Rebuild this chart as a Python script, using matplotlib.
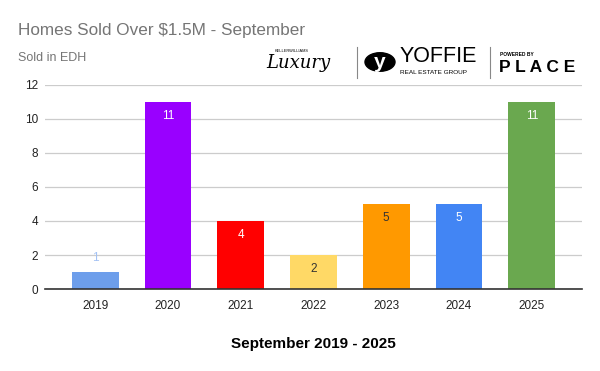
import matplotlib.pyplot as plt
from matplotlib.patches import Circle
from matplotlib.lines import Line2D

years = ["2019", "2020", "2021", "2022", "2023", "2024", "2025"]
sold = [1, 11, 4, 2, 5, 5, 11]
colors = ["#6d9eeb", "#9900ff", "#ff0000", "#ffd966", "#ff9900", "#4285f4", "#6aa84f"]
label_colors = ["#a4c2f4", "white", "white", "#333333", "#333333", "white", "white"]

plt.rcParams['font.family'] = ['Liberation Sans', 'DejaVu Sans']

fig = plt.figure(figsize=(6, 3.71), dpi=100)
ax = fig.add_axes([0.075, 0.221, 0.895, 0.55])

x = range(len(years))
bars = ax.bar(x, sold, width=0.645, color=colors, zorder=2)
for i, (b, v) in enumerate(zip(bars, sold)):
    if v < 2:
        ax.annotate(str(v), (i, v), xytext=(0, 10), textcoords="offset points",
                    ha="center", va="center", fontsize=8.5, color=label_colors[i])
    else:
        ax.annotate(str(v), (i, v), xytext=(0, -10), textcoords="offset points",
                    ha="center", va="center", fontsize=8.5, color=label_colors[i])

ax.set_xlim(-0.69, 6.69)
ax.set_ylim(0, 12)
ax.set_yticks(range(0, 13, 2))
ax.set_xticks(list(x))
ax.set_xticklabels(years)
ax.yaxis.grid(True, color="#cccccc", linewidth=0.9, zorder=0)
ax.set_axisbelow(True)
for s in ["top", "right", "left"]:
    ax.spines[s].set_visible(False)
ax.spines["bottom"].set_color("#333333")
ax.spines["bottom"].set_linewidth(1.2)
ax.spines["bottom"].set_zorder(3)
ax.tick_params(axis="both", length=0, labelsize=8.5, colors="#222222")
ax.tick_params(axis="x", pad=8)
ax.tick_params(axis="y", pad=5)

ax.set_xlabel("September 2019 - 2025", fontsize=11, fontweight="bold", labelpad=18)

fig.text(18 / 600, 1 - 30 / 371, "Homes Sold Over $1.5M - September", fontsize=12.3,
         color="#757575", va="center")
fig.text(18 / 600, 1 - 58 / 371, "Sold in EDH", fontsize=9, color="#757575", va="center")

# logo approximations
fig.text(292 / 600, 1 - 51 / 371, "KELLERWILLIAMS", fontsize=2.8, color="black", ha="center", va="center")
fig.text(266 / 600, 1 - 63 / 371, "Luxury", fontsize=13, color="black", va="center",
         family=["DejaVu Serif"], style="italic")
fig.add_artist(Line2D([357 / 600, 357 / 600], [1 - 47 / 371, 1 - 78 / 371], color="#888888", lw=0.8))
fig.add_artist(Circle((380 / 600, 1 - 62 / 371), 15 / 600, transform=fig.transFigure,
                      color="black"))
fig.text(380 / 600, 1 - 62 / 371, "y", fontsize=15, color="white", fontweight="bold",
         ha="center", va="center")
fig.text(400 / 600, 1 - 57 / 371, "YOFFIE", fontsize=15.5, color="black", va="center")
fig.text(400 / 600, 1 - 73 / 371, "REAL ESTATE GROUP", fontsize=4.6, color="black", va="center")
fig.add_artist(Line2D([490 / 600, 490 / 600], [1 - 47 / 371, 1 - 78 / 371], color="#888888", lw=0.8))
fig.text(500 / 600, 1 - 54 / 371, "POWERED BY", fontsize=3.5, color="black", va="center",
         fontweight="bold")
fig.text(499 / 600, 1 - 68 / 371, "P L A C E", fontsize=12.5, color="black", va="center",
         fontweight="bold")

fig.savefig("out.png", dpi=100)
